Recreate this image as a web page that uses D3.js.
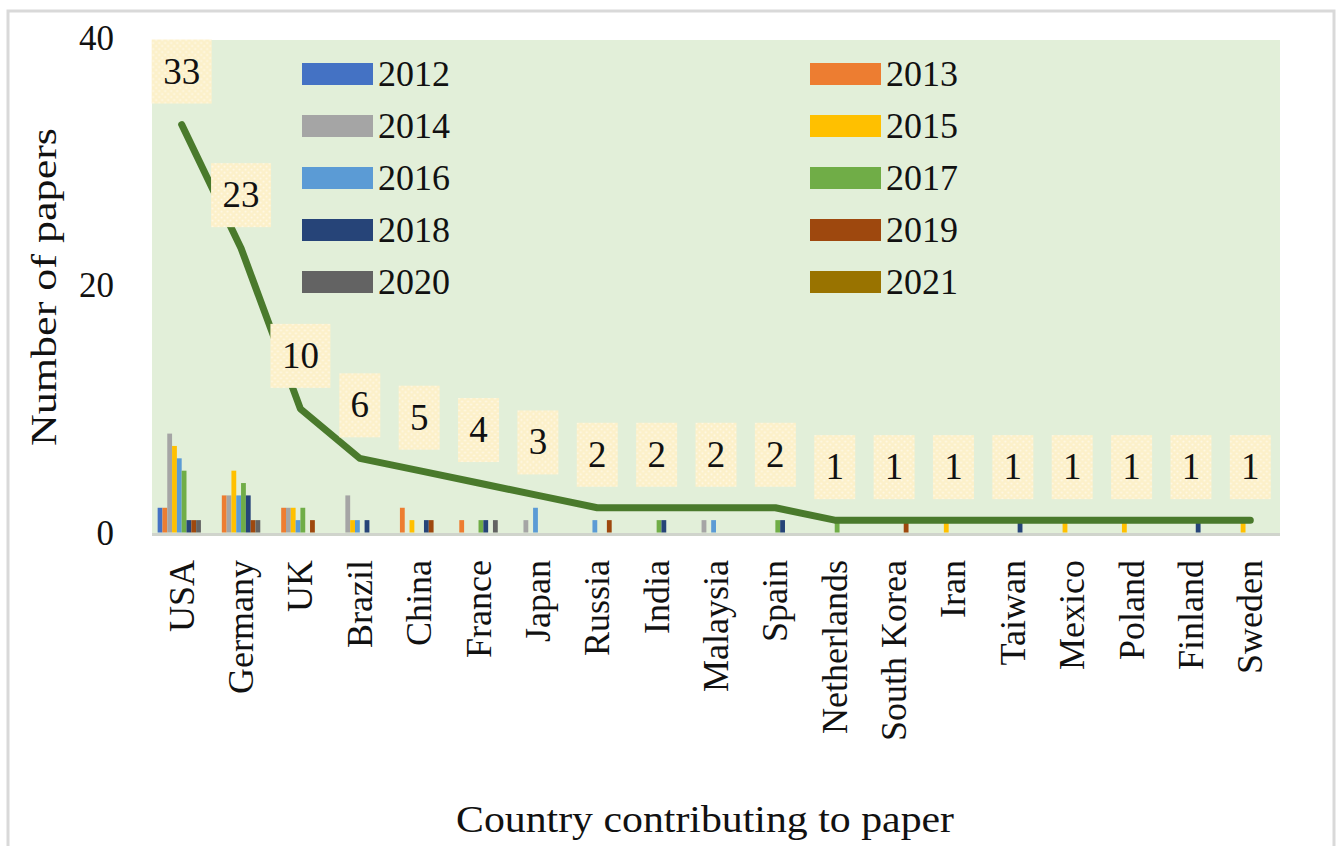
<!DOCTYPE html>
<html>
<head>
<meta charset="utf-8">
<script src="https://cdn.jsdelivr.net/npm/d3@7"></script>
<style>
  body { margin: 0; background: #fff; }
  text { font-family: "Liberation Serif", "Times New Roman", serif; fill: #111; }
</style>
</head>
<body>
<script>
const width = 1341;
const height = 846;

// countries in the order of the chart
const countries = ["USA", "Germany", "UK", "Brazil", "China", "France", "Japan", "Russia", "India",
  "Malaysia", "Spain", "Netherlands", "South Korea", "Iran", "Taiwan", "Mexico", "Poland", "Finland", "Sweden"];

const years = ["2012", "2013", "2014", "2015", "2016", "2017", "2018", "2019", "2020", "2021"];
const yearColors = ["#4472C4", "#ED7D31", "#A5A5A5", "#FFC000", "#5B9BD5", "#70AD47", "#264478", "#9E480E", "#636363", "#997300"];

// papers per year, one value per country
const y2012 = [2, 0, 0, 0, 0, 0, 0, 0, 0, 0, 0, 0, 0, 0, 0, 0, 0, 0, 0];
const y2013 = [2, 3, 2, 0, 2, 1, 0, 0, 0, 0, 0, 0, 0, 0, 0, 0, 0, 0, 0];
const y2014 = [8, 3, 2, 3, 0, 0, 1, 0, 0, 1, 0, 0, 0, 0, 0, 0, 0, 0, 0];
const y2015 = [7, 5, 2, 1, 1, 0, 0, 0, 0, 0, 0, 0, 0, 1, 0, 1, 1, 0, 1];
const y2016 = [6, 3, 1, 1, 0, 0, 2, 1, 0, 1, 0, 0, 0, 0, 0, 0, 0, 0, 0];
const y2017 = [5, 4, 2, 0, 0, 1, 0, 0, 1, 0, 1, 1, 0, 0, 0, 0, 0, 0, 0];
const y2018 = [1, 3, 0, 1, 1, 1, 0, 0, 1, 0, 1, 0, 0, 0, 1, 0, 0, 1, 0];
const y2019 = [1, 1, 1, 0, 1, 0, 0, 1, 0, 0, 0, 0, 1, 0, 0, 0, 0, 0, 0];
const y2020 = [1, 1, 0, 0, 0, 1, 0, 0, 0, 0, 0, 0, 0, 0, 0, 0, 0, 0, 0];
const y2021 = [0, 0, 0, 0, 0, 0, 0, 0, 0, 0, 0, 0, 0, 0, 0, 0, 0, 0, 0];
const yearValues = [y2012, y2013, y2014, y2015, y2016, y2017, y2018, y2019, y2020, y2021];

// total papers per country (the line)
const totals = [33, 23, 10, 6, 5, 4, 3, 2, 2, 2, 2, 1, 1, 1, 1, 1, 1, 1, 1];

const yTicks = [0, 20, 40];

let svg = d3.select("body")
  .append("svg")
  .attr("width", width)
  .attr("height", height);

// outer chart border
svg.append("rect")
  .attr("x", 8).attr("y", 11)
  .attr("width", 1326).attr("height", 860)
  .attr("fill", "#fff")
  .attr("stroke", "#d9d9d9")
  .attr("stroke-width", 3);

const plot = { left: 152, right: 1280, top: 40, bottom: 532.5 };

const x0 = d3.scaleBand()
  .domain(countries)
  .range([plot.left, plot.right])
  .paddingInner(0.19)
  .paddingOuter(0.095);

const x1 = d3.scaleBand()
  .domain(years)
  .range([0, x0.bandwidth()]);

const y = d3.scaleLinear()
  .domain([0, 40])
  .range([plot.bottom, 38]);

// dotted fill for the data labels
const defs = svg.append("defs");
const pat = defs.append("pattern")
  .attr("id", "dots")
  .attr("width", 6).attr("height", 6)
  .attr("patternUnits", "userSpaceOnUse");
pat.append("rect").attr("width", 6).attr("height", 6).attr("fill", "#fcf0c9");
pat.append("circle").attr("cx", 1.5).attr("cy", 1.5).attr("r", 1.1).attr("fill", "#fff9e6");
pat.append("circle").attr("cx", 4.5).attr("cy", 4.5).attr("r", 1.1).attr("fill", "#fff9e6");

// plot background
svg.append("rect")
  .attr("x", plot.left).attr("y", plot.top)
  .attr("width", plot.right - plot.left)
  .attr("height", plot.bottom + 2 - plot.top)
  .attr("fill", "#e2efd9");

// baseline
svg.append("line")
  .attr("x1", plot.left).attr("x2", plot.right)
  .attr("y1", plot.bottom + 2).attr("y2", plot.bottom + 2)
  .attr("stroke", "#d0d4cc")
  .attr("stroke-width", 3);

// grouped bars
const barData = [];
countries.forEach((c, i) => {
  years.forEach((yr, j) => {
    barData.push({ country: c, year: yr, value: yearValues[j][i], color: yearColors[j] });
  });
});

svg.append("g")
  .selectAll("rect")
  .data(barData.filter(d => d.value > 0))
  .join("rect")
  .attr("x", d => x0(d.country) + x1(d.year))
  .attr("width", x1.bandwidth())
  .attr("y", d => y(d.value))
  .attr("height", d => y(0) - y(d.value))
  .attr("fill", d => d.color);

// total line
const line = d3.line()
  .x((d, i) => x0(countries[i]) + x0.bandwidth() / 2)
  .y(d => y(d));

svg.append("path")
  .datum(totals)
  .attr("d", line)
  .attr("fill", "none")
  .attr("stroke", "#4a7a2c")
  .attr("stroke-width", 7)
  .attr("stroke-linejoin", "round")
  .attr("stroke-linecap", "round");

// data labels
const labels = svg.append("g")
  .selectAll("g")
  .data(totals)
  .join("g")
  .attr("transform", (d, i) => `translate(${x0(countries[i]) + x0.bandwidth() / 2},${y(d) - 53})`);

labels.append("rect")
  .attr("x", d => -(String(d).length * 19 + 22) / 2)
  .attr("y", -32)
  .attr("width", d => String(d).length * 19 + 22)
  .attr("height", 64)
  .attr("fill", "url(#dots)");

labels.append("text")
  .attr("text-anchor", "middle")
  .attr("y", 12)
  .attr("font-size", 37)
  .text(d => d);

// y tick labels
svg.append("g")
  .selectAll("text")
  .data(yTicks)
  .join("text")
  .attr("x", 114)
  .attr("y", d => y(d) + 12)
  .attr("text-anchor", "end")
  .attr("font-size", 35)
  .text(d => d);

// x tick labels, rotated
svg.append("g")
  .selectAll("text")
  .data(countries)
  .join("text")
  .attr("transform", d => `translate(${x0(d) + x0.bandwidth() / 2 + 12},560) rotate(-90)`)
  .attr("text-anchor", "end")
  .attr("font-size", 36)
  .text(d => d);

// axis titles
svg.append("text")
  .attr("transform", "translate(56,287) rotate(-90)")
  .attr("text-anchor", "middle")
  .attr("font-size", 36)
  .attr("textLength", 318)
  .attr("lengthAdjust", "spacingAndGlyphs")
  .text("Number of papers");

svg.append("text")
  .attr("x", 705)
  .attr("y", 832)
  .attr("text-anchor", "middle")
  .attr("font-size", 37)
  .attr("textLength", 498)
  .attr("lengthAdjust", "spacingAndGlyphs")
  .text("Country contributing to paper");

// legend, two columns
const legend = svg.append("g")
  .selectAll("g")
  .data(years)
  .join("g")
  .attr("transform", (d, i) => `translate(${i % 2 === 0 ? 302 : 810},${74 + Math.floor(i / 2) * 52})`);

legend.append("rect")
  .attr("x", 0).attr("y", -11)
  .attr("width", 71).attr("height", 22)
  .attr("fill", (d, i) => yearColors[i]);

legend.append("text")
  .attr("x", 76)
  .attr("y", 12)
  .attr("font-size", 36)
  .text(d => d);
</script>
</body>
</html>
